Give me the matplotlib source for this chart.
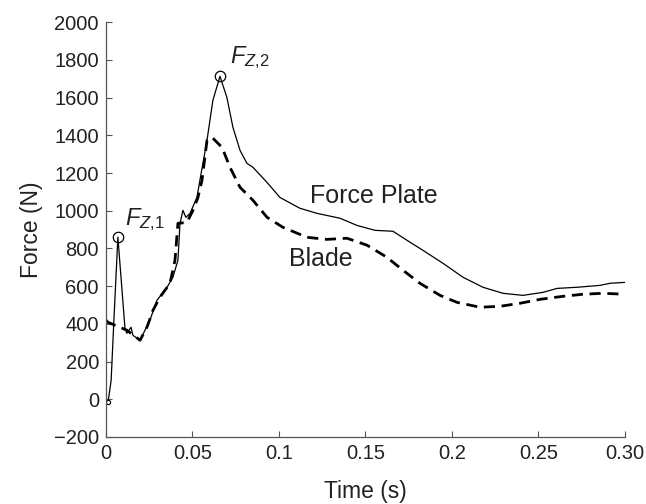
import numpy as np
import matplotlib
matplotlib.use('Agg')
from matplotlib import pyplot as plt

plt.rcParams['font.family'] = ['Liberation Sans', 'DejaVu Sans']
plt.rcParams['mathtext.fontset'] = 'custom'
plt.rcParams['mathtext.it'] = 'Liberation Sans:italic'
plt.rcParams['mathtext.rm'] = 'Liberation Sans'

# force plate trace (solid)
plate_t = [0.0, 0.0012, 0.003, 0.0045, 0.0069, 0.011, 0.0121, 0.0145, 0.0156, 0.0197,
           0.0254, 0.0295, 0.0353, 0.0387, 0.0416, 0.0428, 0.0445, 0.0462, 0.0486, 0.0526,
           0.0543, 0.0584, 0.0618, 0.0659, 0.0699, 0.0734, 0.0775, 0.0815, 0.085, 0.0931,
           0.1006, 0.1121, 0.122, 0.1353, 0.1451, 0.1555, 0.1659, 0.174, 0.1832, 0.1948,
           0.2064, 0.2179, 0.2295, 0.241, 0.2526, 0.2607, 0.2723, 0.2855, 0.2913, 0.3]
plate_f = [-25, -16, 100, 400, 860, 376, 350, 382, 339, 313,
           419, 525, 594, 647, 737, 933, 1002, 965, 986, 1071,
           1161, 1373, 1585, 1713, 1601, 1442, 1320, 1251, 1230, 1150,
           1070, 1013, 986, 960, 922, 896, 891, 843, 790, 721,
           647, 594, 562, 551, 567, 588, 594, 604, 615, 620]

# blade trace (dashed)
blade_t = [0.0, 0.0012, 0.0081, 0.0121, 0.0197, 0.0237, 0.0272, 0.0312, 0.037, 0.0399,
           0.0416, 0.0468, 0.0503, 0.0532, 0.0555, 0.0584, 0.0613, 0.0671, 0.0717, 0.0775,
           0.085, 0.0931, 0.1023, 0.1162, 0.1277, 0.1393, 0.1509, 0.1624, 0.1717, 0.1815,
           0.1931, 0.2029, 0.2162, 0.2277, 0.2393, 0.2509, 0.2642, 0.2757, 0.2873, 0.3]
blade_f = [420, 408, 382, 366, 313, 382, 472, 541, 615, 737,
           933, 938, 1002, 1071, 1161, 1373, 1389, 1336, 1230, 1124,
           1055, 965, 912, 859, 848, 854, 817, 753, 684, 615,
           551, 514, 488, 493, 509, 530, 546, 557, 562, 557]

# peaks
peak_t = [0.0069, 0.0659]
peak_f = [860, 1713]
peak_labels = [r'$F_{\mathit{Z{,}1}}$', r'$F_{\mathit{Z{,}2}}$']

x_ticks = [0, 0.05, 0.1, 0.15, 0.2, 0.25, 0.3]
x_ticklabels = ['0', '0.05', '0.1', '0.15', '0.2', '0.25', '0.30']
y_ticks = list(range(-200, 2001, 200))

fig = plt.figure(figsize=(6.46, 5.04), dpi=100)
ax = fig.add_axes([0.164, 0.133, 0.8035, 0.823])

ax.plot(plate_t, plate_f, color='black', lw=0.9)
ax.plot(blade_t, blade_f, color='black', lw=2.0, dashes=(4.0, 2.4))
ax.plot(peak_t, peak_f, 'o', mfc='none', mec='black', ms=7.5, mew=0.9)
ax.plot(plate_t[1], plate_f[1], 'o', mfc='white', mec='black', ms=3, mew=0.8)

ax.text(0.011, 922, peak_labels[0], fontsize=17, color='#222222')
ax.text(0.0717, 1781, peak_labels[1], fontsize=17, color='#222222')
ax.text(0.118, 1076, 'Force Plate', fontsize=18, color='#222222', va='center')
ax.text(0.106, 742, 'Blade', fontsize=18, color='#222222', va='center')

ax.set_xlim(0, 0.3)
ax.set_ylim(-200, 2000)
ax.set_xticks(x_ticks)
ax.set_xticklabels(x_ticklabels)
ax.set_yticks(y_ticks)
ax.tick_params(direction='in', length=4, width=0.8, color='#555555',
               labelsize=14.5, labelcolor='#222222', pad=5)
for s in ['top', 'right']:
    ax.spines[s].set_visible(False)
for s in ['left', 'bottom']:
    ax.spines[s].set_color('#555555')
    ax.spines[s].set_linewidth(0.9)

ax.set_xlabel('Time (s)', fontsize=16.5, color='#222222', labelpad=12)
ax.set_ylabel('Force (N)', fontsize=16.5, color='#222222', labelpad=8)

plt.savefig('out.png', dpi=100)
